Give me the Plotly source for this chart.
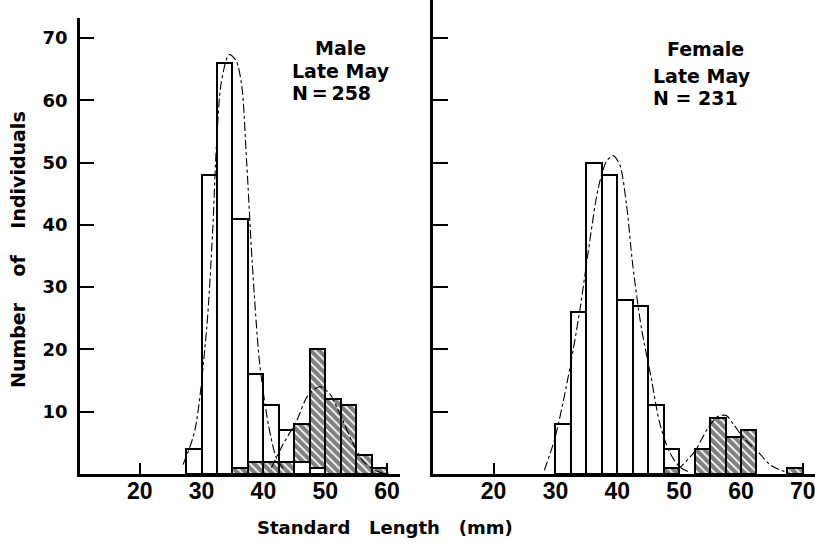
import plotly.graph_objects as go

# ---------------- data ----------------
bin_width = 2.5
male_bins = [28.75, 31.25, 33.75, 36.25, 38.75, 41.25, 43.75, 46.25, 48.75, 51.25, 53.75, 56.25, 58.75]
male_open = [4, 48, 66, 41, 16, 11, 7, 2, 1, 0, 0, 0, 0]
male_hatched = [0, 0, 0, 1, 2, 2, 2, 8, 20, 12, 11, 3, 1]

female_bins = [31.25, 33.75, 36.25, 38.75, 41.25, 43.75, 46.25, 48.75, 51.25, 53.75,
               56.25, 58.75, 61.25, 63.75, 66.25, 68.75]
female_open = [8, 26, 50, 48, 28, 27, 11, 4, 0, 0, 0, 0, 0, 0, 0, 0]
female_hatched = [0, 0, 0, 0, 0, 0, 0, 1, 0, 4, 9, 6, 7, 0, 0, 1]

male_young_curve_x = [27.0, 28.9, 30.8, 31.8, 32.4, 33.2, 34.45, 35.6, 36.5, 37.3, 38.2, 39.4, 40.8, 42.1, 43.5]
male_young_curve_y = [1.5, 6.9, 23, 39, 52.6, 62.9, 67.3, 66.3, 62.3, 50, 33.9, 17.7, 8, 2.6, 0.5]
male_old_curve_x = [41.3, 43.2, 45.35, 47.2, 49.1, 50.7, 52.4, 54.3, 56.1, 58.3, 60.5]
male_old_curve_y = [1.0, 4.8, 8.5, 12.6, 14.0, 12.9, 9.6, 5.3, 2.1, 0.5, 0.0]

female_young_curve_x = [28.2, 29.9, 32.0, 33.9, 35.3, 36.9, 38.2, 39.3, 40.4, 41.5, 42.5, 43.9, 45.5, 46.8, 48.4, 50.0, 51.4]
female_young_curve_y = [0.6, 5.7, 15.3, 26, 35.7, 45.8, 50.1, 51.1, 49.6, 43.1, 33.5, 23.4, 15.3, 8.4, 3.6, 1.2, 0.4]
female_old_curve_x = [49.7, 52.5, 54.6, 56.2, 57.6, 58.9, 60.5, 62.7, 64.8, 67.0]
female_old_curve_y = [0.6, 3.6, 7.3, 9.2, 9.4, 7.8, 5.7, 3.6, 1.4, 0.4]

x_ticks_left = [20, 30, 40, 50, 60]
x_ticks_right = [20, 30, 40, 50, 60, 70]
y_ticks = [10, 20, 30, 40, 50, 60, 70]

panel_labels = [("Male", "Late May", "N\u2009=\u2009258"), ("Female", "Late May", "N = 231")]

# ---------------- figure ----------------
fig = go.Figure()

def pick(vals, mask):
    return [v if m else None for v, m in zip(vals, mask)]

def add_panel(bins, opn, hat, xa, ya):
    open_style = dict(color="white", line=dict(color="black", width=2))
    hatch_style = dict(color="white", line=dict(color="black", width=2),
                       pattern=dict(shape="\\", fgcolor="black", bgcolor="white",
                                    size=6, solidity=0.7))
    back_open = pick(opn, [o >= h and o > 0 for o, h in zip(opn, hat)])
    back_hat = pick(hat, [h > o and h > 0 for o, h in zip(opn, hat)])
    front_open = pick(opn, [0 < o < h for o, h in zip(opn, hat)])
    front_hat = pick(hat, [0 < h <= o for o, h in zip(opn, hat)])
    for vals, style in [(back_open, open_style), (back_hat, hatch_style),
                        (front_open, open_style), (front_hat, hatch_style)]:
        fig.add_trace(go.Bar(x=bins, y=vals, width=bin_width, marker=style,
                             xaxis=xa, yaxis=ya, showlegend=False, hoverinfo="skip"))

def add_curve(xs, ys, xa, ya):
    fig.add_trace(go.Scatter(x=xs, y=ys, mode="lines",
                             line=dict(color="black", width=1.1, dash="dashdot",
                                       shape="spline", smoothing=0.8),
                             xaxis=xa, yaxis=ya, showlegend=False, hoverinfo="skip"))

add_panel(male_bins, male_open, male_hatched, "x", "y")
add_panel(female_bins, female_open, female_hatched, "x2", "y2")
add_curve(male_young_curve_x, male_young_curve_y, "x", "y")
add_curve(male_old_curve_x, male_old_curve_y, "x", "y")
add_curve(female_young_curve_x, female_young_curve_y, "x2", "y2")
add_curve(female_old_curve_x, female_old_curve_y, "x2", "y2")

W, H = 815, 545
pxmm = 6.185
pxy = 6.23
base = 474

tick_font_x = dict(family="Liberation Sans Narrow, Liberation Sans, Arial",
                   size=23, color="black", weight="bold")
tick_font_y = dict(family="DejaVu Sans", size=18, color="black", weight="bold")

xcommon = dict(showgrid=False, zeroline=False, showline=True, linecolor="black", linewidth=2.5,
               ticks="inside", ticklen=11, tickwidth=1.5, tickcolor="black",
               tickfont=tick_font_x, ticklabelstandoff=-5, ticklabeloverflow="allow")
ycommon = dict(showgrid=False, zeroline=False, showline=True, linecolor="black", linewidth=2.5,
               ticks="inside", tickwidth=2, tickcolor="black", tickvals=y_ticks)

fig.update_layout(
    width=W, height=H, margin=dict(l=0, r=0, t=0, b=0),
    paper_bgcolor="white", plot_bgcolor="rgba(0,0,0,0)",
    barmode="overlay", bargap=0, hovermode=False,
    xaxis=dict(domain=[80 / W, 400 / W], range=[10.35, 10.35 + 320 / pxmm],
               tickvals=x_ticks_left, anchor="y", **xcommon),
    yaxis=dict(domain=[(H - base) / H, (H - 18) / H], range=[0, (base - 18) / pxy],
               anchor="x", ticklen=14, tickfont=tick_font_y, ticklabelstandoff=6, **ycommon),
    xaxis2=dict(domain=[433 / W, 1.0], range=[10.2, 10.2 + 382 / pxmm],
                tickvals=x_ticks_right, anchor="y2", **xcommon),
    yaxis2=dict(domain=[(H - base) / H, 1.0], range=[0, base / pxy],
                anchor="x2", ticklen=15, showticklabels=False, **ycommon),
)

ann_font = dict(family="DejaVu Sans", size=19, color="black", weight="bold")
nb = "\u00a0"
annotations = [
    dict(x=340 / W, y=1 - 48 / H, text=panel_labels[0][0], xanchor="center"),
    dict(x=290 / W, y=1 - 71 / H, text=panel_labels[0][1], xanchor="left"),
    dict(x=290 / W, y=1 - 93 / H, text=panel_labels[0][2], xanchor="left"),
    dict(x=705 / W, y=1 - 49 / H, text=panel_labels[1][0], xanchor="center"),
    dict(x=651 / W, y=1 - 76 / H, text=panel_labels[1][1], xanchor="left"),
    dict(x=651 / W, y=1 - 98 / H, text=panel_labels[1][2], xanchor="left"),
]
for a in annotations:
    fig.add_annotation(xref="paper", yref="paper", yanchor="middle", showarrow=False,
                       font=ann_font, **a)

title_font = dict(family="DejaVu Sans", size=18, color="black", weight="bold")
fig.add_annotation(xref="paper", yref="paper", x=385 / W, y=1 - 527 / H,
                   text=f"Standard{nb*3}Length{nb*3}(mm)", showarrow=False,
                   xanchor="center", yanchor="middle", font=title_font)
fig.add_annotation(xref="paper", yref="paper", x=18 / W, y=1 - 250 / H,
                   text=f"Number{nb*4}of{nb*4}Individuals", showarrow=False, textangle=-90,
                   xanchor="center", yanchor="middle",
                   font=dict(family="DejaVu Sans", size=19, color="black", weight="bold"))

fig.write_html("out.html", config={"displayModeBar": False},
               post_script="document.body.style.margin='0';")
